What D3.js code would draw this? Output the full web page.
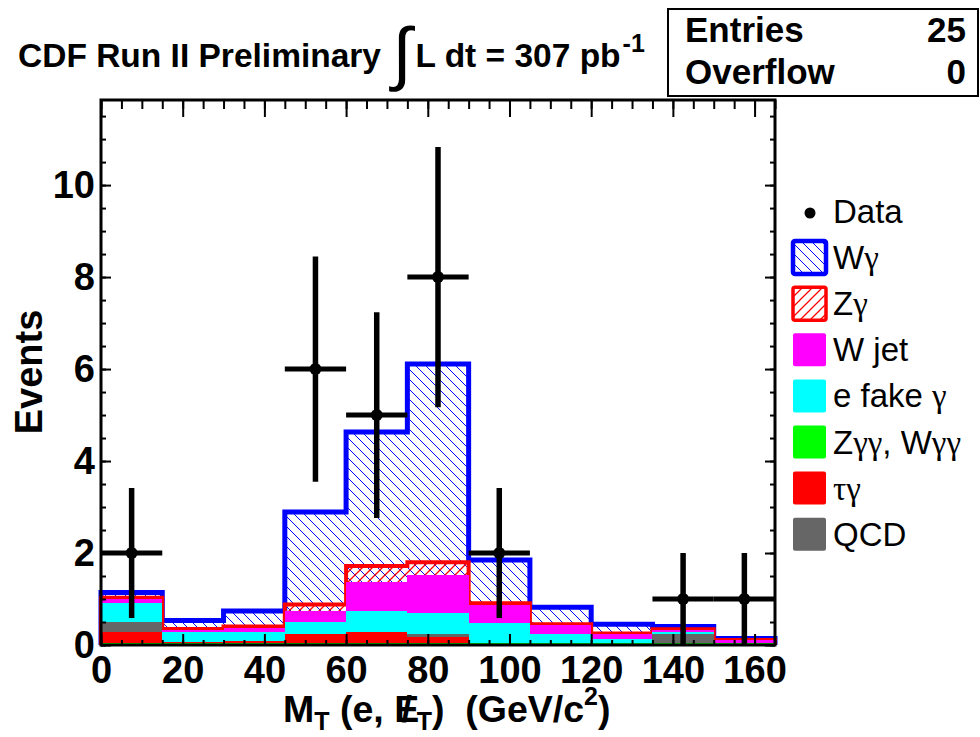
<!DOCTYPE html>
<html>
<head>
<meta charset="utf-8">
<script src="https://d3js.org/d3.v7.min.js"></script>
<style>
  body { margin: 0; background: #fff; }
  svg { display: block; }
  text { font-family: "Liberation Sans", Arial, Helvetica, sans-serif; }
</style>
</head>
<body>
<svg id="chart" width="980" height="737"></svg>
<script>

// --- data (15 GeV bins) ---
var binEdges   = [0, 15, 30, 45, 60, 75, 90, 105, 120, 135, 150, 165];
var dataCounts = [2, 0, 0, 6, 5, 8, 2, 0, 0, 1, 1];

// background components, bottom of the stack first
var zggWgg   = [0.02, 0.02, 0.02, 0.03, 0.03, 0.03, 0.03, 0.02, 0.02, 0.02, 0.02];
var tauGamma = [0.27, 0.05, 0.06, 0.22, 0.26, 0.15, 0.00, 0.00, 0.00, 0.00, 0.00];
var qcd      = [0.22, 0.00, 0.00, 0.00, 0.00, 0.05, 0.00, 0.00, 0.00, 0.23, 0.00];
var eFake    = [0.41, 0.21, 0.21, 0.26, 0.45, 0.47, 0.44, 0.21, 0.12, 0.03, 0.02];
var wJet     = [0.08, 0.05, 0.09, 0.24, 0.64, 0.82, 0.40, 0.20, 0.09, 0.05, 0.06];
var zGamma   = [0.03, 0.02, 0.02, 0.13, 0.34, 0.28, 0.04, 0.02, 0.02, 0.01, 0.01];
var wGamma   = [0.11, 0.18, 0.34, 2.01, 2.91, 4.31, 0.94, 0.37, 0.20, 0.06, 0.03];

var xTicks = [0, 20, 40, 60, 80, 100, 120, 140, 160];
var yTicks = [0, 2, 4, 6, 8, 10];

var legendLabels = ['Data', 'W\u03b3', 'Z\u03b3', 'W jet', 'e fake \u03b3',
                    'Z\u03b3\u03b3, W\u03b3\u03b3', '\u03c4\u03b3', 'QCD'];

var svg = d3.select('#chart');
var pLeft = 101, pRight = 775, pTop = 100, pBottom = 645;

var x = d3.scaleLinear().domain([0, 165]).range([pLeft, pRight]);
var y = d3.scaleLinear().domain([0, 11.85]).range([pBottom, pTop]);

// stack
var keys = ['zgg', 'tau', 'qcd', 'efake', 'wjet', 'zg', 'wg'];
var cols = { zgg: '#00ff00', tau: '#ff0000', qcd: '#666666', efake: '#00ffff', wjet: '#ff00ff' };
var rows = dataCounts.map(function(d, i) {
    return { lo: binEdges[i], hi: binEdges[i + 1],
             zgg: zggWgg[i], tau: tauGamma[i], qcd: qcd[i], efake: eFake[i],
             wjet: wJet[i], zg: zGamma[i], wg: wGamma[i] };
});
var stack = d3.stack().keys(keys)(rows);
var byKey = {};
stack.forEach(function(s) { byKey[s.key] = s; });

var defs = svg.append('defs');
function hatch(id, color, back, w) {
    var s = 10;
    var p = defs.append('pattern').attr('id', id)
        .attr('patternUnits', 'userSpaceOnUse')
        .attr('width', s).attr('height', s);
    var d = back ? 'M0,0 L' + s + ',' + s + ' M-1,' + (s - 1) + ' L1,' + (s + 1) + ' M' + (s - 1) + ',-1 L' + (s + 1) + ',1'
                 : 'M0,' + s + ' L' + s + ',0 M-1,1 L1,-1 M' + (s - 1) + ',' + (s + 1) + ' L' + (s + 1) + ',' + (s - 1);
    p.append('path').attr('d', d).attr('stroke', color).attr('stroke-width', w);
}
hatch('hatchBlue', '#0000ff', true, 1);
hatch('hatchRed', '#ff0000', false, 1.25);

// step outline through the tops of one cumulative layer
function stepPoints(layer) {
    var pts = [[binEdges[0], 0]];
    layer.forEach(function(d, i) {
        pts.push([binEdges[i], d[1]]);
        pts.push([binEdges[i + 1], d[1]]);
    });
    pts.push([binEdges[binEdges.length - 1], 0]);
    return pts;
}
var line = d3.line().x(function(d) { return x(d[0]); }).y(function(d) { return y(d[1]); });
var area = d3.area().x(function(d) { return x(d[0]); }).y0(y(0)).y1(function(d) { return y(d[1]); });

var plot = svg.append('g');

plot.append('path').attr('d', area(stepPoints(byKey.wg)))
    .attr('fill', 'url(#hatchBlue)');
plot.append('path').attr('d', area(stepPoints(byKey.zg)))
    .attr('fill', 'url(#hatchRed)');
plot.append('path').attr('d', line(stepPoints(byKey.wg)))
    .attr('fill', 'none').attr('stroke', '#0000ff').attr('stroke-width', 5);
plot.append('path').attr('d', line(stepPoints(byKey.zg)))
    .attr('fill', 'none').attr('stroke', '#ff0000').attr('stroke-width', 4);

['zgg', 'tau', 'qcd', 'efake', 'wjet'].forEach(function(k) {
    plot.append('g').selectAll('rect').data(byKey[k]).enter().append('rect')
        .attr('shape-rendering', 'crispEdges')
        .attr('x', function(d, i) { return x(binEdges[i]); })
        .attr('width', function(d, i) { return x(binEdges[i + 1]) - x(binEdges[i]); })
        .attr('y', function(d) { return y(d[1]); })
        .attr('height', function(d) { return y(d[0]) - y(d[1]); })
        .attr('fill', cols[k]);
});
plot.append('line').attr('x1', pLeft).attr('x2', pRight).attr('y1', pBottom - 1).attr('y2', pBottom - 1)
    .attr('stroke', '#00ff00').attr('stroke-width', 2);

// data points with sqrt(N) errors
var pts = rows.map(function(r, i) { return { lo: r.lo, hi: r.hi, n: dataCounts[i] }; })
    .filter(function(d) { return d.n > 0; });
var dg = plot.append('g');
dg.selectAll('.hbar').data(pts).enter().append('line')
    .attr('x1', function(d) { return x(d.lo); }).attr('x2', function(d) { return x(d.hi); })
    .attr('y1', function(d) { return y(d.n); }).attr('y2', function(d) { return y(d.n); })
    .attr('stroke', '#000').attr('stroke-width', 5);
dg.selectAll('.vbar').data(pts).enter().append('line')
    .attr('x1', function(d) { return x((d.lo + d.hi) / 2); }).attr('x2', function(d) { return x((d.lo + d.hi) / 2); })
    .attr('y1', function(d) { return y(d.n - Math.sqrt(d.n)); }).attr('y2', function(d) { return y(d.n + Math.sqrt(d.n)); })
    .attr('stroke', '#000').attr('stroke-width', 5.5);
dg.selectAll('circle').data(pts).enter().append('circle')
    .attr('cx', function(d) { return x((d.lo + d.hi) / 2); })
    .attr('cy', function(d) { return y(d.n); })
    .attr('r', 6).attr('fill', '#000');

// axes
function styleAxis(g) {
    g.select('.domain').remove();
    g.selectAll('line').attr('stroke', '#000').attr('stroke-width', 2);
}
function styleLabels(g) {
    g.attr('font-size', null).attr('font-family', null);
    g.selectAll('text').attr('font-size', 38).attr('font-weight', 'bold').attr('fill', '#000');
}
var minorX = d3.range(0, 166, 5), minorY = d3.range(0, 11.9, 0.5);

svg.append('g').attr('transform', 'translate(0,' + pBottom + ')')
    .call(d3.axisBottom(x).tickValues(minorX).tickSize(-5).tickFormat('')).call(styleAxis);
svg.append('g').attr('transform', 'translate(0,' + pBottom + ')')
    .call(d3.axisBottom(x).tickValues(xTicks).tickSize(-11).tickPadding(11).tickFormat(d3.format('d')))
    .call(styleAxis).call(styleLabels);
svg.append('g').attr('transform', 'translate(0,' + pTop + ')')
    .call(d3.axisTop(x).tickValues(minorX).tickSize(-9).tickFormat('')).call(styleAxis);
svg.append('g').attr('transform', 'translate(0,' + pTop + ')')
    .call(d3.axisTop(x).tickValues(xTicks).tickSize(-17).tickFormat('')).call(styleAxis);

svg.append('g').attr('transform', 'translate(' + pLeft + ',0)')
    .call(d3.axisLeft(y).tickValues(minorY).tickSize(-5).tickFormat('')).call(styleAxis);
svg.append('g').attr('transform', 'translate(' + pLeft + ',0)')
    .call(d3.axisLeft(y).tickValues(yTicks).tickSize(-10).tickPadding(6).tickFormat(d3.format('d')))
    .call(styleAxis).call(styleLabels);
svg.append('g').attr('transform', 'translate(' + pRight + ',0)')
    .call(d3.axisRight(y).tickValues(minorY).tickSize(-5).tickFormat('')).call(styleAxis);
svg.append('g').attr('transform', 'translate(' + pRight + ',0)')
    .call(d3.axisRight(y).tickValues(yTicks).tickSize(-10).tickFormat('')).call(styleAxis);

svg.append('rect').attr('x', pLeft).attr('y', pTop)
    .attr('width', pRight - pLeft).attr('height', pBottom - pTop)
    .attr('fill', 'none').attr('stroke', '#000').attr('stroke-width', 3);

// axis titles
svg.append('text').attr('transform', 'translate(42,372) rotate(-90)')
    .attr('text-anchor', 'middle').attr('font-size', 38).attr('font-weight', 'bold')
    .text('Events');

var xl = svg.append('text').attr('x', 283).attr('y', 722)
    .attr('font-size', 37.5).attr('font-weight', 'bold');
xl.append('tspan').text('M');
xl.append('tspan').attr('font-size', 25).attr('dy', 8).text('T');
xl.append('tspan').attr('dy', -8).text(' (e, E');
xl.append('tspan').attr('dx', '-0.47em').text('/');
xl.append('tspan').attr('dx', '0.19em').attr('font-size', 25).attr('dy', 8).text('T');
xl.append('tspan').attr('dy', -8).text(')\u00a0 (GeV/c');
xl.append('tspan').attr('font-size', 25).attr('dy', -17).text('2');
xl.append('tspan').attr('dy', 17).text(')');

// title
var tt = svg.append('text').attr('x', 18).attr('y', 67)
    .attr('font-size', 33.5).attr('font-weight', 'bold');
tt.append('tspan').text('CDF Run II Preliminary ');
tt.append('tspan').attr('font-size', 70).attr('font-weight', 'normal').attr('dx', 2).attr('dy', 10).text('\u222b');
tt.append('tspan').attr('dx', 4).attr('dy', -10).text('L dt = 307 pb');
tt.append('tspan').attr('font-size', 25).attr('dx', 2).attr('dy', -15).text('-1');

// stats box
svg.append('rect').attr('x', 668).attr('y', 9).attr('width', 310).attr('height', 87)
    .attr('fill', '#fff').attr('stroke', '#000').attr('stroke-width', 2);
var statNames = ['Entries', 'Overflow'], statVals = ['25', '0'];
statNames.forEach(function(s, i) {
    svg.append('text').attr('x', 685).attr('y', 42 + i * 42)
        .attr('font-size', 35).attr('font-weight', 'bold').text(s);
    svg.append('text').attr('x', 966).attr('y', 42 + i * 42).attr('text-anchor', 'end')
        .attr('font-size', 35).attr('font-weight', 'bold').text(statVals[i]);
});

// legend
var lg = svg.append('g');
var legendFill = [null, 'url(#hatchBlue)', 'url(#hatchRed)', '#ff00ff', '#00ffff', '#00ff00', '#ff0000', '#666666'];
var legendStroke = [null, '#0000ff', '#ff0000', null, null, null, null, null];
legendLabels.forEach(function(lab, i) {
    var cy = 211 + i * 46.1;
    if (i === 0) {
        lg.append('circle').attr('cx', 810).attr('cy', cy + 2).attr('r', 5.5).attr('fill', '#000');
    } else {
        var st = legendStroke[i];
        lg.append('rect').attr('x', 793).attr('y', cy - 16).attr('width', 33).attr('height', 33)
            .attr('rx', 2)
            .attr('fill', legendFill[i])
            .attr('stroke', st || 'none').attr('stroke-width', st ? (i === 1 ? 4.5 : 3.5) : 0);
    }
    var t = lg.append('text').attr('x', 833).attr('y', cy + 12).attr('font-size', 33);
    // greek letters in a serif face, as in the original
    lab.split(/([\u0370-\u03ff]+)/).forEach(function(part) {
        if (!part) return;
        var sp = t.append('tspan').text(part);
        if (/[\u0370-\u03ff]/.test(part)) sp.attr('font-family', '"Liberation Serif", "Times New Roman", serif');
    });
});

</script>
</body>
</html>
